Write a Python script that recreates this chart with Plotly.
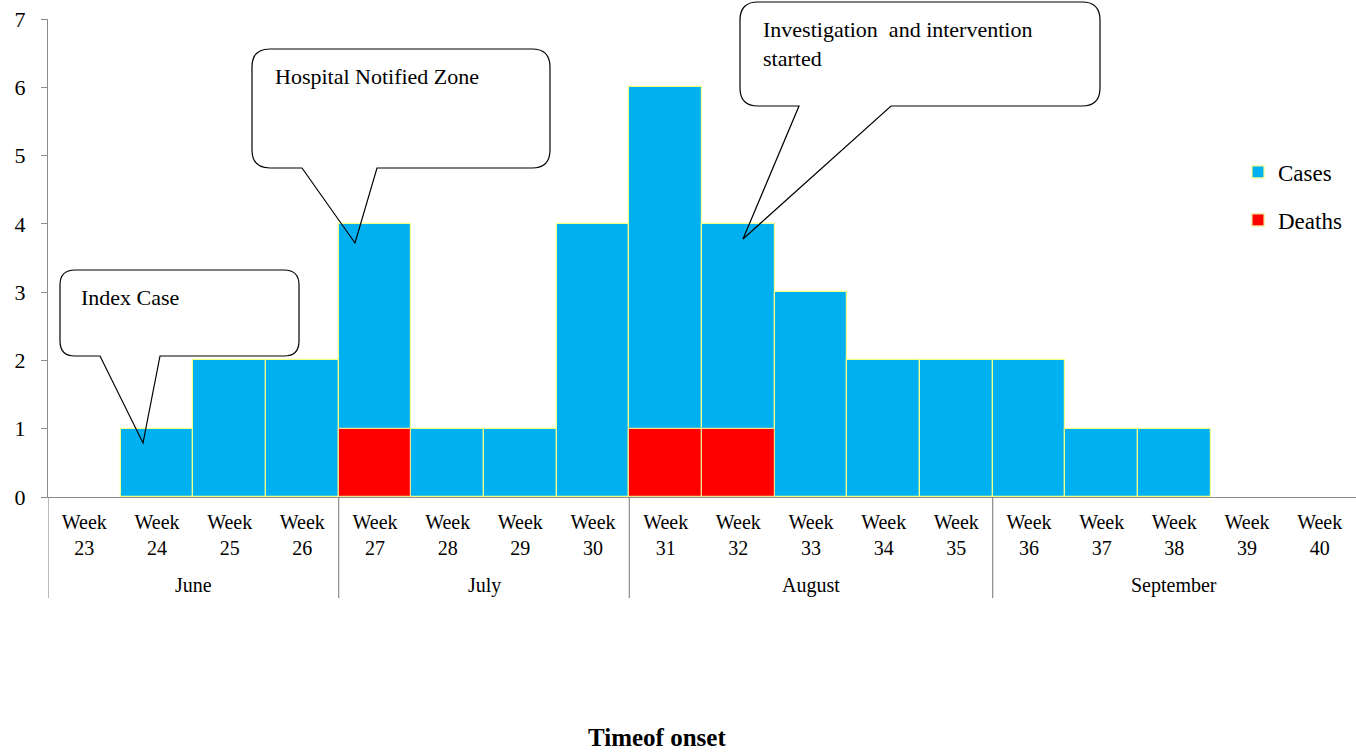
import plotly.graph_objects as go

# ---- data ----
weeks = [23, 24, 25, 26, 27, 28, 29, 30, 31, 32, 33, 34, 35, 36, 37, 38, 39, 40]
months = ["June", "July", "August", "September"]
weeks_per_month = [4, 4, 5, 5]
cases = [0, 1, 2, 2, 4, 1, 1, 4, 6, 4, 3, 2, 2, 2, 1, 1, 0, 0]
deaths = [0, 0, 0, 0, 1, 0, 0, 0, 1, 1, 0, 0, 0, 0, 0, 0, 0, 0]
week_labels = [f"Week<br>{w}" for w in weeks]
callouts = [
    {"text": "Index Case"},
    {"text": "Hospital Notified Zone"},
    {"text": "Investigation  and intervention<br>started"},
]

FONT = "Liberation Serif"
W, H = 1356, 753
L, T, PW, PH = 48, 19, 1308, 478

def px(x):
    return (x - L) / PW

def py(y):
    return (T + PH - y) / PH

idx = list(range(len(weeks)))

def nz(vals):
    # zero-height bars are not drawn (no outline on the baseline)
    return [v if v else None for v in vals]

fig = go.Figure()
fig.add_trace(go.Bar(
    x=idx, y=nz(cases), name="Cases", width=1,
    marker=dict(color="#00B0F0", line=dict(color="#F2FF8A", width=1.2)),
    legend="legend",
))
fig.add_trace(go.Bar(
    x=idx, y=nz(deaths), name="Deaths", width=1,
    marker=dict(color="#FF0000", line=dict(color="#F2E08A", width=1.2)),
    legend="legend2",
))

shapes = []
annotations = []

# month group dividers and labels
start = 0
for m, n in zip(months, weeks_per_month):
    shapes.append(dict(type="line", xref="x", yref="paper",
                       x0=start - 0.5, x1=start - 0.5, y0=0, y1=py(598),
                       line=dict(color="#8C8C8C", width=1.2)))
    annotations.append(dict(text=m, xref="x", yref="paper",
                            x=start + (n - 1) / 2, y=py(585),
                            xanchor="center", yanchor="middle", showarrow=False,
                            font=dict(family=FONT, size=20, color="#000")))
    start += n

# callout boxes (decoration)
def callout_path(l, t, r, b, rad, bx1, bx2, tx, ty):
    pts = [
        ("M", l + rad, t), ("L", r - rad, t), ("Q", r, t, r, t + rad),
        ("L", r, b - rad), ("Q", r, b, r - rad, b), ("L", bx2, b),
        ("L", tx, ty), ("L", bx1, b), ("L", l + rad, b),
        ("Q", l, b, l, b - rad), ("L", l, t + rad), ("Q", l, t, l + rad, t),
    ]
    s = ""
    for p in pts:
        cmd = p[0]
        coords = p[1:]
        cs = []
        for i in range(0, len(coords), 2):
            cs.append(f"{px(coords[i]):.5f},{py(coords[i+1]):.5f}")
        s += cmd + " ".join(cs) + " "
    return s + "Z"

geo = [
    (60, 270, 299, 356, 15, 100, 160, 143, 443),
    (252, 49, 550, 168, 18, 302, 377, 355, 243),
    (740, 2, 1100, 106, 18, 799, 891, 743, 239),
]
text_pos = [(79, 283), (273, 62), (761, 15)]
for c, g, tp in zip(callouts, geo, text_pos):
    shapes.append(dict(type="path", xref="paper", yref="paper",
                       path=callout_path(*g),
                       line=dict(color="#000", width=1.2)))
    annotations.append(dict(text=c["text"], xref="paper", yref="paper",
                            x=px(tp[0]), y=py(tp[1]), xanchor="left", yanchor="top",
                            align="left", showarrow=False,
                            font=dict(family=FONT, size=22, color="#000")))

# axis title
annotations.append(dict(text="<b>Timeof onset</b>", xref="paper", yref="paper",
                        x=px(657), y=py(737), xanchor="center", yanchor="middle",
                        showarrow=False, font=dict(family=FONT, size=25, color="#000")))

fig.update_layout(
    width=W, height=H,
    margin=dict(l=L, r=W - L - PW, t=T, b=H - T - PH, autoexpand=False),
    paper_bgcolor="white", plot_bgcolor="white",
    barmode="overlay", bargap=0,
    font=dict(family=FONT, color="#000"),
    showlegend=True,
    legend=dict(x=px(1238), y=py(172), xanchor="left", yanchor="middle",
                font=dict(family=FONT, size=23), bgcolor="rgba(0,0,0,0)"),
    legend2=dict(x=px(1238), y=py(220), xanchor="left", yanchor="middle",
                 font=dict(family=FONT, size=23), bgcolor="rgba(0,0,0,0)"),
    shapes=shapes,
    annotations=annotations,
)
fig.update_xaxes(type="linear", range=[-0.5, len(weeks) - 0.5],
                 tickvals=idx, ticktext=week_labels, ticks="",
                 showline=True, linecolor="#8C8C8C", linewidth=1.2,
                 showgrid=False, zeroline=False, automargin=False,
                 ticklabelstandoff=7,
                 tickfont=dict(family=FONT, size=20, color="#000"))
fig.update_yaxes(range=[0, 7], dtick=1, ticks="outside", ticklen=6,
                 tickcolor="#8C8C8C", showline=True, linecolor="#8C8C8C",
                 linewidth=1.2, showgrid=False, zeroline=False, automargin=False,
                 ticklabelstandoff=11,
                 tickfont=dict(family=FONT, size=22, color="#000"))

fig.write_html("out.html", config={"displayModeBar": False},
               post_script="document.body.style.margin='0';document.body.style.overflow='hidden';")
